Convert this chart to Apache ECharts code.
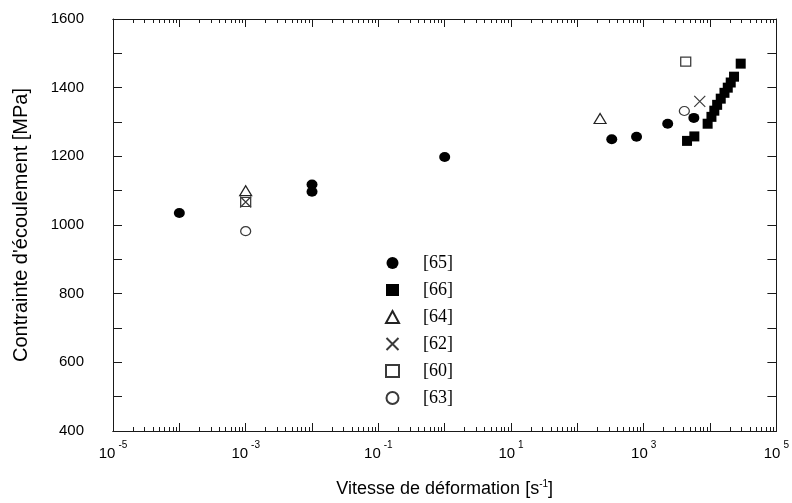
<!DOCTYPE html>
<html>
<head>
<meta charset="utf-8">
<script src="https://cdn.jsdelivr.net/npm/echarts@6/dist/echarts.min.js"></script>
<style>
  html, body { margin: 0; padding: 0; background: #fff; }
  #chart { width: 792px; height: 503px; }
</style>
</head>
<body>
<div id="chart"></div>
<script>
// Flow stress vs strain rate, data grouped by source reference
const rate65 = [1e-4, 1e-2, 1e-2, 1, 330, 780, 2300, 5700];
const stress65 = [1035, 1118, 1097, 1198, 1250, 1257, 1295, 1312];

const rate66 = [4500, 5800, 9200, 10500, 11600, 12800, 14500, 16500, 18500, 20500, 23000, 29000];
const stress66 = [1245, 1258, 1295, 1315, 1333, 1350, 1368, 1385, 1400, 1415, 1432, 1470];

const rate64 = [1e-3, 220];
const stress64 = [1100, 1310];

const rate62 = [1e-3, 7000];
const stress62 = [1067, 1360];

const rate60 = [1e-3, 4300];
const stress60 = [1067, 1476];

const rate63 = [1e-3, 4100];
const stress63 = [982, 1332];

const seriesNames = ['[65]', '[66]', '[64]', '[62]', '[60]', '[63]'];

// decade ticks, labelled decades, and 2..9 minor ticks
const decades = [];
for (let e = -5; e <= 5; e++) decades.push(Math.pow(10, e));
const labelledDecades = [1e-5, 1e-3, 1e-1, 1e1, 1e3, 1e5];
const minorValues = [];
for (let e = -5; e < 5; e++) {
  for (let m = 2; m <= 9; m++) minorValues.push(m * Math.pow(10, e));
}

const pairs = (xs, ys) => xs.map((x, i) => [x, ys[i]]);

const FONT = 'Liberation Sans, Arial, Helvetica, sans-serif';
const INK = '#1a1a1a';
const OPEN = '#3a3a3a';

function xAxisDef(position, ticks, tickLen, withLabels) {
  return {
    type: 'log',
    logBase: 10,
    min: 1e-5,
    max: 1e5,
    position: position,
    axisLine: { show: true, onZero: false, lineStyle: { color: INK, width: 1 } },
    axisTick: { show: true, inside: true, length: tickLen, customValues: ticks, lineStyle: { color: INK, width: 1 } },
    axisLabel: withLabels ? {
      show: true,
      customValues: labelledDecades,
      margin: 9,
      formatter: function (v) {
        const e = Math.round(Math.log10(v));
        return '{b|10}{s|' + e + '}';
      },
      rich: {
        b: { fontFamily: FONT, fontSize: 15, color: '#000', padding: [6, 3, 0, 0] },
        s: { fontFamily: FONT, fontSize: 10, color: '#000', verticalAlign: 'top', padding: [0, 0, 8, 0] }
      }
    } : { show: false },
    splitLine: { show: false },
    minorTick: { show: false },
    minorSplitLine: { show: false }
  };
}

function yAxisDef(position, withLabels) {
  return {
    type: 'value',
    min: 400,
    max: 1600,
    interval: 200,
    position: position,
    axisLine: { show: true, onZero: false, lineStyle: { color: INK, width: 1 } },
    axisTick: { show: true, inside: true, length: 9, lineStyle: { color: INK, width: 1 } },
    minorTick: { show: true, splitNumber: 2, length: 9, lineStyle: { color: INK, width: 1 } },
    axisLabel: withLabels ? {
      show: true, margin: 29, fontFamily: FONT, fontSize: 15, color: '#000',
      formatter: function (v) { return String(v); }
    } : { show: false },
    splitLine: { show: false }
  };
}

const xAxes = [
  Object.assign(xAxisDef('bottom', decades, 8, true), {
    name: 'Vitesse de déformation [s{sup|-1}]',
    nameLocation: 'middle',
    nameGap: 48,
    nameTextStyle: {
      fontFamily: FONT, fontSize: 18, color: '#000',
      rich: { sup: { fontFamily: FONT, fontSize: 10, verticalAlign: 'top', padding: [0, 0, 10, 0] } }
    }
  }),
  xAxisDef('bottom', minorValues, 4, false),
  xAxisDef('top', decades, 8, false),
  xAxisDef('top', minorValues, 4, false)
];

const yAxes = [
  Object.assign(yAxisDef('left', true), {
    name: "Contrainte d'écoulement [MPa]",
    nameLocation: 'middle',
    nameGap: 82,
    nameRotate: 90,
    nameTextStyle: { fontFamily: FONT, fontSize: 20, color: '#000' }
  }),
  yAxisDef('right', false)
];

const crossPath = 'path://M0,0L10,10M10,0L0,10';

const series = [
  {
    name: seriesNames[0], type: 'scatter', data: pairs(rate65, stress65),
    symbol: 'circle', symbolSize: [11, 10],
    itemStyle: { color: '#000', opacity: 1 }
  },
  {
    name: seriesNames[1], type: 'scatter', data: pairs(rate66, stress66),
    symbol: 'rect', symbolSize: 10,
    itemStyle: { color: '#000', opacity: 1 }
  },
  {
    name: seriesNames[2], type: 'scatter', data: pairs(rate64, stress64),
    symbol: 'triangle', symbolSize: [12, 10],
    itemStyle: { color: 'rgba(255,255,255,0)', borderColor: '#222', borderWidth: 1.2, opacity: 1 }
  },
  {
    name: seriesNames[3], type: 'scatter', data: pairs(rate62, stress62),
    symbol: crossPath, symbolSize: 11,
    itemStyle: { color: 'rgba(255,255,255,0)', borderColor: OPEN, borderWidth: 1.2, opacity: 1 }
  },
  {
    name: seriesNames[4], type: 'scatter', data: pairs(rate60, stress60),
    symbol: 'rect', symbolSize: [10, 9],
    itemStyle: { color: 'rgba(255,255,255,0)', borderColor: OPEN, borderWidth: 1.2, opacity: 1 }
  },
  {
    name: seriesNames[5], type: 'scatter', data: pairs(rate63, stress63),
    symbol: 'circle', symbolSize: [10, 9],
    itemStyle: { color: 'rgba(255,255,255,0)', borderColor: OPEN, borderWidth: 1.2, opacity: 1 }
  }
];

const chart = echarts.init(document.getElementById('chart'), null, { renderer: 'canvas' });
chart.setOption({
  animation: false,
  backgroundColor: '#fff',
  grid: { left: 113, top: 19, right: 13, bottom: 71, containLabel: false },
  xAxis: xAxes,
  yAxis: yAxes,
  legend: {
    orient: 'vertical',
    left: 380,
    top: 249,
    itemWidth: 13,
    itemHeight: 12,
    itemGap: 9,
    selectedMode: false,
    data: seriesNames,
    textStyle: {
      fontFamily: 'Liberation Serif, Times New Roman, serif', fontSize: 18, color: '#000',
      padding: [0, 0, 0, 19]
    }
  },
  series: series
});
</script>
</body>
</html>
